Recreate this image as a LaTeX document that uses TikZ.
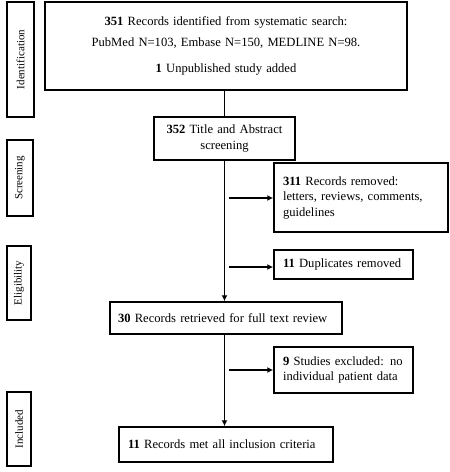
\documentclass[tikz,border=0pt]{standalone}
\usepackage{fontspec}
\setmainfont{Liberation Serif}
\usetikzlibrary{arrows.meta}
\newcommand\mainfs{\fontsize{12.6}{15.5}\selectfont}
\newcommand\sidefs{\fontsize{11}{13}\selectfont}
\begin{document}
\begin{tikzpicture}[x=1pt,y=-1pt,
  box/.style={draw, line width=1.5pt, inner xsep=9pt, inner ysep=0pt, font=\mainfs, anchor=center},
  side/.style={draw, line width=1.5pt, rotate=90, inner sep=0pt, font=\sidefs, anchor=center},
  arr/.style={line width=1.5pt, -{Latex[length=6pt,width=6pt]}},
  ln/.style={line width=1.5pt}]
\useasboundingbox (0,0) rectangle (450,472);
% side labels
\node[side, minimum width=115pt, minimum height=27pt] (sid) at (20.5,59.5) {Identification};
\node[side, minimum width=76pt, minimum height=26pt] (sscr) at (20,178) {Screening};
\node[side, minimum width=74pt, minimum height=24pt] (sel) at (19,283) {Eligibility};
\node[side, minimum width=74pt, minimum height=24pt] (sinc) at (19,429) {Included};
% main boxes
\node[box, minimum width=362pt, minimum height=88pt, text width=344pt, align=center] (top) at (226,46)
  {\textbf{351} Records identified from systematic search:\\[5.5pt]
   PubMed N=103, Embase N=150, MEDLINE N=98.\\[11pt]
   \textbf{1} Unpublished study added};
\node[box, minimum width=141pt, minimum height=43pt, text width=123pt, align=center] (scr) at (224.5,138.5)
  {\textbf{352} Title and Abstract\\screening};
\node[box, minimum width=174pt, minimum height=69pt, text width=156pt, align=left] (rem) at (361,197.5)
  {\textbf{311} Records removed:\\letters, reviews, comments,\\guidelines};
\node[box, minimum width=139pt, minimum height=29pt, text width=121pt, align=left] (dup) at (343.5,264.5)
  {\textbf{11} Duplicates removed};
\node[box, minimum width=232pt, minimum height=32pt, inner xsep=8pt, text width=216pt, align=left] (ret) at (226,318)
  {\textbf{30} Records retrieved for full text review};
\node[box, minimum width=139pt, minimum height=46pt, text width=121pt, align=left] (exc) at (343.5,370)
  {\textbf{9} Studies excluded: no\\individual patient data};
\node[box, minimum width=214pt, minimum height=35pt, text width=196pt, align=left] (inc) at (226,444.5)
  {\textbf{11} Records met all inclusion criteria};
% connectors
\coordinate (b1) at (229,198);
\coordinate (b2) at (229,267);
\coordinate (b3) at (229,370);
\draw[ln] (scr.north |- top.south) -- (scr.north);
\draw[arr] (scr.south) -- (scr.south |- ret.north);
\draw[arr] (scr.south |- ret.south) -- (scr.south |- inc.north);
\draw[arr] (b1) -- (b1 -| rem.west);
\draw[arr] (b2) -- (b2 -| dup.west);
\draw[arr] (b3) -- (b3 -| exc.west);
\end{tikzpicture}
\end{document}
